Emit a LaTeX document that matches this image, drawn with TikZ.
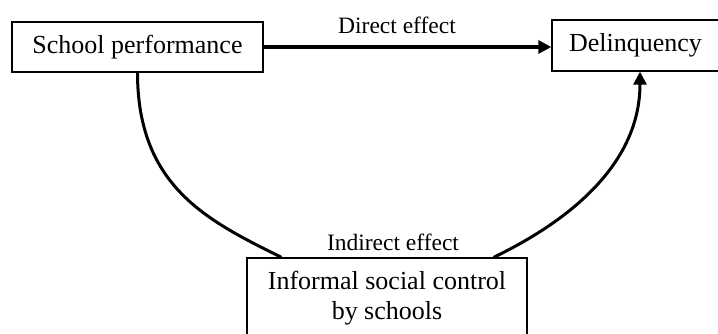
\documentclass[tikz,border=0pt]{standalone}
\usepackage{fontspec}
\setmainfont{Liberation Serif}
\usepackage{tikz}
\usetikzlibrary{arrows.meta}

\begin{document}
\begin{tikzpicture}[x=1pt,y=-1pt,
  box/.style={draw,line width=1.3pt,inner sep=0pt,font=\fontsize{26}{30}\selectfont,align=center},
  effect/.style={font=\fontsize{23.5}{28}\selectfont},
  link/.style={line width=3.2pt,-{Triangle[length=13pt,width=13pt]}}]
\useasboundingbox (0,0) rectangle (718,334);

\node [box,minimum width=251pt,minimum height=50pt] (sp) at (137.5,47) {School performance};
\node [box,minimum width=167pt,minimum height=51pt] (del) at (635.5,45.5) {Delinquency};
\node [box,minimum width=280pt,minimum height=80pt] (isc) at (387,298) {Informal social control\\by schools};

\node [effect] (de) at (397,25) {Direct effect};
\node [effect] (ie) at (393,242) {Indirect effect};

\draw [link] (sp.east) -- (sp.east -| del.west);
\draw [line width=3pt] (sp.south) .. controls +(0,115) and +(-72,-36) .. ([xshift=35pt]isc.north west);
\draw [link,line width=3pt] ([xshift=-34pt]isc.north east) .. controls +(62,-30) and +(0,100) .. ([xshift=4.5pt]del.south);
\end{tikzpicture}
\end{document}
